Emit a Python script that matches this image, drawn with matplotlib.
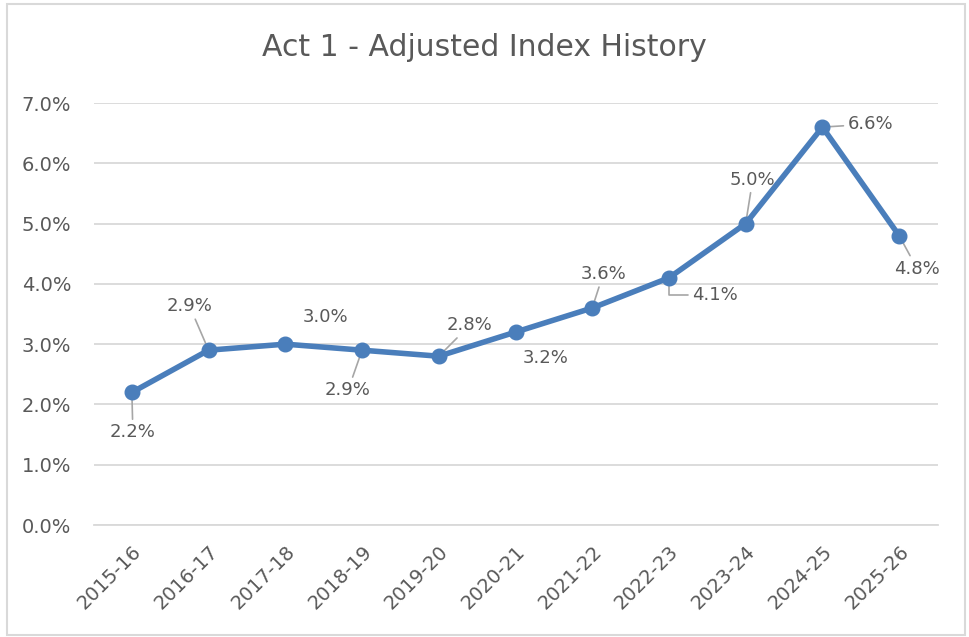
import matplotlib.pyplot as plt
from matplotlib.patches import Rectangle
from matplotlib.ticker import PercentFormatter

years = ["2015-16", "2016-17", "2017-18", "2018-19", "2019-20", "2020-21",
         "2021-22", "2022-23", "2023-24", "2024-25", "2025-26"]
index_pct = [2.2, 2.9, 3.0, 2.9, 2.8, 3.2, 3.6, 4.1, 5.0, 6.6, 4.8]

# label placement (offset in pixels from the point) and leader line flag
label_dx = [1, -19, 40, -14, 31, 30, 11, 46, 7, 48, 18]
label_dy = [-40, 44, 27, -40, 31, -26, 34, -17, 44, 3, -33]
leader = [True, True, False, True, True, False, True, True, True, True, True]

grey = "#595959"
blue = "#4a7ebb"

fig = plt.figure(figsize=(9.69, 6.37), dpi=100)
ax = fig.add_axes([0.0965, 0.1758, 0.871, 0.6625])

x = list(range(len(years)))
ax.plot(x, index_pct, color=blue, linewidth=4, marker="o", markersize=10.5,
        zorder=3, solid_capstyle="round")

for i, v in enumerate(index_pct):
    props = None
    if leader[i]:
        props = dict(arrowstyle="-", color="#a6a6a6", lw=1.2, shrinkA=1, shrinkB=0)
        if i == 7:
            props["connectionstyle"] = "angle,angleA=0,angleB=90,rad=0"
    ax.annotate(f"{v:.1f}%", (i, v), xytext=(label_dx[i], label_dy[i]),
                textcoords="offset pixels", ha="center", va="center",
                fontsize=13, color=grey, arrowprops=props, zorder=2)

ax.set_xlim(-0.5, len(years) - 0.5)
ax.set_ylim(0, 7)
ax.set_yticks([0, 1, 2, 3, 4, 5, 6, 7])
ax.yaxis.set_major_formatter(PercentFormatter(decimals=1))
ax.set_xticks(x)
ax.set_xticklabels(years, rotation=45, ha="right", rotation_mode="anchor")
ax.tick_params(axis="both", length=0, labelsize=14, labelcolor=grey)
ax.tick_params(axis="y", pad=16)
ax.tick_params(axis="x", pad=12)
ax.grid(axis="y", color="#d9d9d9", linewidth=1.3)
ax.set_axisbelow(True)
for s in ax.spines.values():
    s.set_visible(False)
ax.spines["bottom"].set_visible(True)
ax.spines["bottom"].set_color("#d9d9d9")
ax.spines["bottom"].set_linewidth(1.3)

fig.text(0.5, 0.926, "Act 1 - Adjusted Index History", ha="center", va="center",
         fontsize=21.5, color=grey)

fig.patches.append(Rectangle((0.007, 0.003), 0.989, 0.99, transform=fig.transFigure,
                             fill=False, edgecolor="#d9d9d9", linewidth=1.5))

fig.savefig("out.png", dpi=100)
